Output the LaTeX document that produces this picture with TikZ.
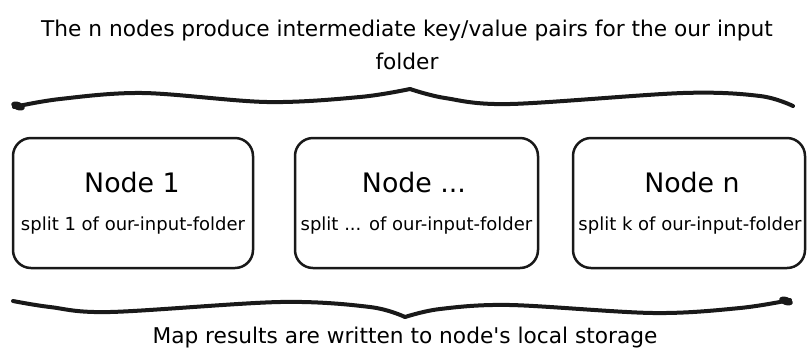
\documentclass[tikz,border=0pt]{standalone}
\usepackage{fontspec}
\setmainfont{DejaVu Sans}
\begin{document}
\begin{tikzpicture}[x=1pt,y=-1pt,
  box/.style={draw=black!90, line width=2.5pt, rounded corners=18pt,
              minimum height=130pt, inner sep=0pt},
  title/.style={font=\fontsize{26.8}{30}\selectfont, inner sep=0pt},
  sub/.style={font=\fontsize{18}{21}\selectfont, inner sep=0pt},
  caption/.style={font=\fontsize{21.7}{25}\selectfont, inner sep=0pt},
  brace/.style={line width=4pt, line cap=round, line join=round, black!90}]
\useasboundingbox (0,0) rectangle (809,360);

% top caption
\node[caption] (t1) at (407,31) {The n nodes produce intermediate key/value pairs for the our input};
\node[caption] (t2) at (407,61) {folder};

% top brace
\draw[brace] plot[smooth, tension=0.55] coordinates {(14,107) (60,99) (143,93) (267,102) (360,97) (410,89)};
\draw[brace] plot[smooth, tension=0.55] coordinates {(410,89) (445,98) (510,104) (683,93) (760,96) (793,106)};
\fill[black!90, rotate around={-22:(18,106)}] (18,106) ellipse (7pt and 4pt);

% boxes
\node[box, minimum width=240pt] (n1) at (133,203) {};
\node[box, minimum width=243pt] (n2) at (416.5,203) {};
\node[box, minimum width=232pt] (n3) at (689,203) {};

\node[title] (n1t) at (132,183) {Node 1};
\node[sub]   (n1s) at (133,226) {split 1 of our-input-folder};
\node[title] (n2t) at (414,183) {Node ...};
\node[sub]   (n2s) at (416.5,226) {split ... of our-input-folder};
\node[title] (n3t) at (692,183) {Node n};
\node[sub]   (n3s) at (690,226) {split k of our-input-folder};

% bottom brace
\draw[brace] plot[smooth, tension=0.55] coordinates {(13,301) (50,307) (110,312) (280,302) (370,307) (405,317)};
\draw[brace] plot[smooth, tension=0.55] coordinates {(405,317) (440,309) (510,305) (653,313) (740,308) (790,300)};
\fill[black!90, rotate around={-20:(786,301)}] (786,301) ellipse (7pt and 4pt);

% bottom caption
\node[caption] (b1) at (405,338) {Map results are written to node{\XeTeXglyph\XeTeXcharglyph"0027}s local storage};
\end{tikzpicture}
\end{document}
